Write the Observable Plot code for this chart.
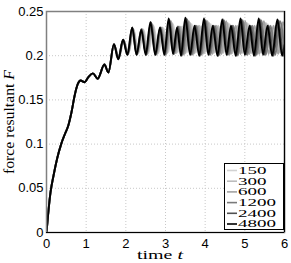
<!DOCTYPE html>
<html>
<head>
<meta charset="utf-8">
<script src="https://cdn.jsdelivr.net/npm/d3@7"></script>
<script src="https://cdn.jsdelivr.net/npm/@observablehq/plot@0.6"></script>
<style>
  html, body { margin: 0; padding: 0; background: #fff; }
  #wrap { position: relative; width: 291px; height: 263px; }
  #legend { position: absolute; left: 224px; top: 163px; width: 60px; height: 67px; background: #fff; border: 1px solid #000; box-sizing: border-box; }
  #legend svg { display: block; }
</style>
</head>
<body>
<div id="wrap"></div>
<script>
// ---- data ----
const seriesNames = ["150", "300", "600", "1200", "2400", "4800"];
const seriesColors = ["#d2d2d2", "#bcbcbc", "#a2a2a2", "#7a7a7a", "#505050", "#000000"];

const xTicks = [0, 1, 2, 3, 4, 5, 6];
const xTickLabels = ["0", "1", "2", "3", "4", "5", "6"];
const yTicks = [0, 0.05, 0.1, 0.15, 0.2, 0.25];
const yTickLabels = ["0", "0.05", "0.1", "0.15", "0.2", "0.25"];

// common start-up transient (t, F)
const early = [[0,0],[0.04,0.02],[0.1,0.045],[0.18,0.065],[0.27,0.084],[0.37,0.100],[0.47,0.112],[0.55,0.121],[0.63,0.136],[0.71,0.155],[0.79,0.168],[0.86,0.172],[0.96,0.170],[1.06,0.176],[1.17,0.180],[1.29,0.174],[1.46,0.190],[1.56,0.181]];

const late150 = [[1.71,0.212],[1.83,0.198],[1.95,0.217],[2.07,0.203],[2.20,0.229],[2.32,0.203],[2.45,0.229],[2.57,0.203],[2.70,0.234],[2.82,0.203],[2.95,0.231],[3.07,0.204],[3.19,0.236],[3.31,0.204],[3.43,0.233],[3.55,0.204],[3.66,0.236],[3.78,0.204],[3.90,0.233],[4.02,0.204],[4.14,0.236],[4.26,0.204],[4.38,0.233],[4.50,0.204],[4.62,0.236],[4.74,0.204],[4.86,0.233],[4.98,0.204],[5.10,0.236],[5.22,0.204],[5.34,0.233],[5.46,0.204],[5.58,0.236],[5.70,0.204],[5.82,0.233],[5.94,0.204],[6.0,0.210]];
const late300 = [[1.70,0.213],[1.82,0.197],[1.94,0.218],[2.06,0.202],[2.19,0.230],[2.30,0.202],[2.43,0.230],[2.55,0.202],[2.68,0.235],[2.80,0.202],[2.92,0.232],[3.04,0.203],[3.16,0.237],[3.28,0.203],[3.39,0.233],[3.51,0.203],[3.62,0.237],[3.74,0.203],[3.86,0.234],[3.98,0.203],[4.10,0.237],[4.22,0.203],[4.33,0.234],[4.45,0.203],[4.57,0.237],[4.69,0.203],[4.81,0.234],[4.93,0.203],[5.05,0.237],[5.17,0.203],[5.29,0.234],[5.41,0.203],[5.53,0.237],[5.65,0.203],[5.77,0.234],[5.89,0.203],[6.0,0.236]];
const late600 = [[1.70,0.213],[1.82,0.197],[1.94,0.218],[2.06,0.202],[2.18,0.231],[2.29,0.202],[2.41,0.230],[2.53,0.202],[2.66,0.236],[2.78,0.202],[2.90,0.232],[3.02,0.202],[3.14,0.239],[3.25,0.203],[3.36,0.233],[3.48,0.202],[3.59,0.239],[3.71,0.202],[3.82,0.234],[3.94,0.202],[4.06,0.239],[4.18,0.202],[4.29,0.234],[4.41,0.202],[4.53,0.239],[4.65,0.202],[4.77,0.234],[4.89,0.202],[5.01,0.239],[5.12,0.202],[5.24,0.234],[5.36,0.202],[5.48,0.239],[5.60,0.202],[5.72,0.234],[5.84,0.202],[5.96,0.238],[6.0,0.234]];
const late1200 = [[1.70,0.213],[1.81,0.197],[1.93,0.218],[2.05,0.201],[2.17,0.231],[2.28,0.201],[2.40,0.230],[2.52,0.201],[2.64,0.237],[2.76,0.201],[2.88,0.232],[3.00,0.201],[3.11,0.240],[3.22,0.202],[3.33,0.233],[3.44,0.201],[3.55,0.241],[3.67,0.201],[3.78,0.234],[3.90,0.201],[4.02,0.240],[4.13,0.201],[4.25,0.234],[4.36,0.201],[4.48,0.240],[4.60,0.201],[4.71,0.234],[4.83,0.201],[4.95,0.240],[5.07,0.201],[5.19,0.234],[5.30,0.201],[5.42,0.240],[5.53,0.201],[5.65,0.234],[5.77,0.201],[5.89,0.239],[6.0,0.203]];
const late2400 = [[1.70,0.213],[1.81,0.196],[1.93,0.218],[2.04,0.201],[2.16,0.232],[2.27,0.201],[2.39,0.230],[2.51,0.201],[2.63,0.238],[2.75,0.201],[2.87,0.232],[2.98,0.201],[3.09,0.241],[3.20,0.202],[3.31,0.233],[3.41,0.200],[3.52,0.242],[3.64,0.201],[3.75,0.234],[3.87,0.200],[3.99,0.241],[4.10,0.201],[4.21,0.234],[4.33,0.200],[4.45,0.241],[4.56,0.201],[4.68,0.234],[4.80,0.200],[4.92,0.241],[5.03,0.201],[5.15,0.234],[5.26,0.200],[5.38,0.241],[5.49,0.201],[5.60,0.234],[5.72,0.200],[5.85,0.240],[5.97,0.200],[6.0,0.203]];
const late4800 = [[1.70,0.213],[1.81,0.196],[1.93,0.218],[2.04,0.201],[2.16,0.232],[2.27,0.201],[2.39,0.229],[2.50,0.201],[2.62,0.238],[2.74,0.201],[2.86,0.232],[2.97,0.201],[3.08,0.242],[3.19,0.202],[3.29,0.232],[3.39,0.200],[3.50,0.243],[3.62,0.201],[3.73,0.234],[3.85,0.200],[3.97,0.242],[4.08,0.201],[4.19,0.234],[4.31,0.200],[4.43,0.241],[4.54,0.201],[4.65,0.234],[4.77,0.200],[4.89,0.242],[5.00,0.201],[5.12,0.234],[5.23,0.200],[5.35,0.242],[5.46,0.201],[5.57,0.234],[5.69,0.200],[5.82,0.241],[5.94,0.200],[6.0,0.212]];

const lateBySeries = [late150, late300, late600, late1200, late2400, late4800];

// ---- build table ----
const rows = [];
seriesNames.forEach((n, i) => {
  early.concat(lateBySeries[i]).forEach(([t, F]) => rows.push({t, F, n}));
});

const chart = Plot.plot({
  width: 291,
  height: 263,
  marginLeft: 46,
  marginRight: 7,
  marginTop: 11,
  marginBottom: 31,
  style: {fontFamily: "'Liberation Sans', Arial, sans-serif", fontSize: "12px", color: "#000", background: "#fff"},
  x: {domain: [0, 6], ticks: xTicks, label: null},
  y: {domain: [0, 0.25], ticks: yTicks, label: null},
  color: {domain: seriesNames, range: seriesColors},
  marks: [
    Plot.gridX(xTicks, {stroke: "#c8c8c8", strokeOpacity: 1, strokeDasharray: "1,2"}),
    Plot.gridY(yTicks, {stroke: "#c8c8c8", strokeOpacity: 1, strokeDasharray: "1,2"}),
    Plot.line(rows, {x: "t", y: "F", z: "n", stroke: "n", curve: "monotone-x", strokeWidth: 1.9, clip: true}),
    Plot.frame({stroke: "#808080", strokeWidth: 1.5}),
    Plot.ruleY([0], {stroke: "#000", strokeWidth: 1.2}),
    Plot.ruleX([6], {stroke: "#000", strokeWidth: 1.2}),
    Plot.axisX(xTicks, {tickSize: 0, tickPadding: 6, tickFormat: (d, i) => xTickLabels[i], fontSize: 13, label: null}),
    Plot.axisY(yTicks, {tickSize: 0, tickPadding: 3, tickFormat: (d, i) => yTickLabels[i], fontSize: 13, label: null})
  ]
});

const wrap = document.getElementById("wrap");
wrap.appendChild(chart);

// axis titles (serif, with italic symbol)
const svg = d3.select(chart);
const xl = svg.append("text")
  .attr("x", 160).attr("y", 259)
  .attr("text-anchor", "middle")
  .style("font-family", "'Liberation Serif', 'DejaVu Serif', serif")
  .style("font-size", "13px").attr("fill", "#000")
  .attr("textLength", 46).attr("lengthAdjust", "spacingAndGlyphs");
xl.append("tspan").text("time ");
xl.append("tspan").style("font-style", "italic").text("t");

const yl = svg.append("text")
  .attr("transform", "translate(14,122) rotate(-90)")
  .attr("text-anchor", "middle")
  .style("font-family", "'Liberation Serif', 'DejaVu Serif', serif")
  .style("font-size", "15px").attr("fill", "#000")
  .attr("textLength", 104).attr("lengthAdjust", "spacingAndGlyphs");
yl.append("tspan").text("force resultant ");
yl.append("tspan").style("font-style", "italic").text("F");

// legend (inside plot, bottom right)
const leg = d3.select(wrap).append("div").attr("id", "legend");
const lsvg = leg.append("svg").attr("width", 58).attr("height", 65);
seriesNames.forEach((n, i) => {
  const cy = 6.5 + i * 10.7;
  lsvg.append("line").attr("x1", 2).attr("x2", 12).attr("y1", cy).attr("y2", cy)
    .attr("stroke", seriesColors[i]).attr("stroke-width", 1.6);
  lsvg.append("text").attr("x", 13).attr("y", cy + 3.4)
    .style("font-family", "'Liberation Serif', 'DejaVu Serif', serif")
    .style("font-size", "9.5px").attr("fill", "#000")
    .attr("textLength", n.length * 9.5).attr("lengthAdjust", "spacingAndGlyphs")
    .text(n);
});
</script>
</body>
</html>
